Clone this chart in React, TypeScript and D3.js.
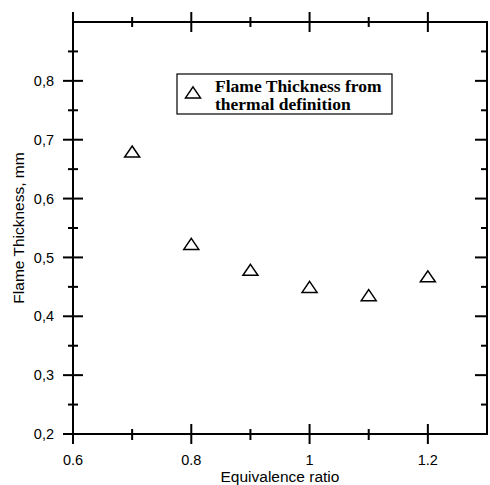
import React from "react";
import * as d3 from "d3";

const phi = [0.7, 0.8, 0.9, 1.0, 1.1, 1.2];
const thickness = [0.679, 0.522, 0.478, 0.449, 0.435, 0.467];
const xMajor = [0.6, 0.8, 1.0, 1.2];
const xMinor = [0.7, 0.9, 1.1];
const yMajor = [0.2, 0.3, 0.4, 0.5, 0.6, 0.7, 0.8];
const yMinor = [0.25, 0.35, 0.45, 0.55, 0.65, 0.75, 0.85];
const legendLines = ["Flame Thickness from", "thermal definition"];

export default function App() {
  const W = 490, H = 485;
  const L = 73, R = 487, T = 22, B = 434;
  const x = d3.scaleLinear().domain([0.6, 1.3]).range([L, R]);
  const y = d3.scaleLinear().domain([0.2, 0.9]).range([B, T]);
  const triPath = (cx: number, cy: number) => {
    const s = 7.5, h = 11;
    return `M${cx},${cy - h * 0.55}L${cx + s},${cy + h * 0.45}L${cx - s},${cy + h * 0.45}Z`;
  };
  const sans = "Liberation Sans, Arial, sans-serif";
  const serif = "Liberation Serif, Times New Roman, serif";
  const fmtY = (v: number) => v.toFixed(1).replace(".", ",");
  const fmtX = (v: number) => (Math.abs(v - 1) < 1e-9 ? "1" : String(v));
  return (
    <svg width={W} height={H} style={{ position: "absolute", left: 0, top: 0, background: "#fff" }}>
      <rect x={0} y={0} width={W} height={H} fill="#fff" />
      <g stroke="#000" strokeWidth={2} fill="none">
        <rect x={L} y={T} width={R - L} height={B - T} />
        {xMajor.map((v) => (
          <g key={"xm" + v}>
            <line x1={x(v)} x2={x(v)} y1={B - 10} y2={B + 10} />
            <line x1={x(v)} x2={x(v)} y1={T - 10} y2={T + 10} />
          </g>
        ))}
        {xMinor.map((v) => (
          <g key={"xn" + v}>
            <line x1={x(v)} x2={x(v)} y1={B - 5} y2={B + 6} />
            <line x1={x(v)} x2={x(v)} y1={T - 5} y2={T + 5} />
          </g>
        ))}
        {yMajor.map((v) => (
          <g key={"ym" + v}>
            <line x1={L - 10} x2={L + 10} y1={y(v)} y2={y(v)} />
            <line x1={R - 12} x2={R} y1={y(v)} y2={y(v)} />
          </g>
        ))}
        {yMinor.map((v) => (
          <g key={"yn" + v}>
            <line x1={L - 5} x2={L + 5} y1={y(v)} y2={y(v)} />
            <line x1={R - 6} x2={R} y1={y(v)} y2={y(v)} />
          </g>
        ))}
      </g>
      <g fontFamily={sans} fontSize={14.5} fill="#000">
        {yMajor.map((v) => (
          <text key={"yl" + v} x={L - 19} y={y(v)} dy="0.35em" textAnchor="end">
            {fmtY(v)}
          </text>
        ))}
        {xMajor.map((v) => (
          <text key={"xl" + v} x={x(v)} y={465} textAnchor="middle">
            {fmtX(v)}
          </text>
        ))}
      </g>
      <g fontFamily={sans} fontSize={15.5} fill="#000">
        <text x={(L + R) / 2} y={482} textAnchor="middle">Equivalence ratio</text>
        <text transform={`translate(24,${(T + B) / 2}) rotate(-90)`} textAnchor="middle">
          Flame Thickness, mm
        </text>
      </g>
      <g stroke="#000" strokeWidth={1.5} fill="none">
        {phi.map((p, i) => (
          <path key={"pt" + i} d={triPath(x(p), y(thickness[i]))} />
        ))}
      </g>
      <rect x={177} y={74} width={215} height={40} fill="#fff" stroke="#000" strokeWidth={1.2} />
      <path d={triPath(193, 93)} stroke="#000" strokeWidth={1.5} fill="none" />
      <g fontFamily={serif} fontWeight="bold" fontSize={17.5} fill="#000">
        {legendLines.map((t, i) => (
          <text key={t} x={215} y={91.5 + i * 18.5}>{t}</text>
        ))}
      </g>
    </svg>
  );
}
